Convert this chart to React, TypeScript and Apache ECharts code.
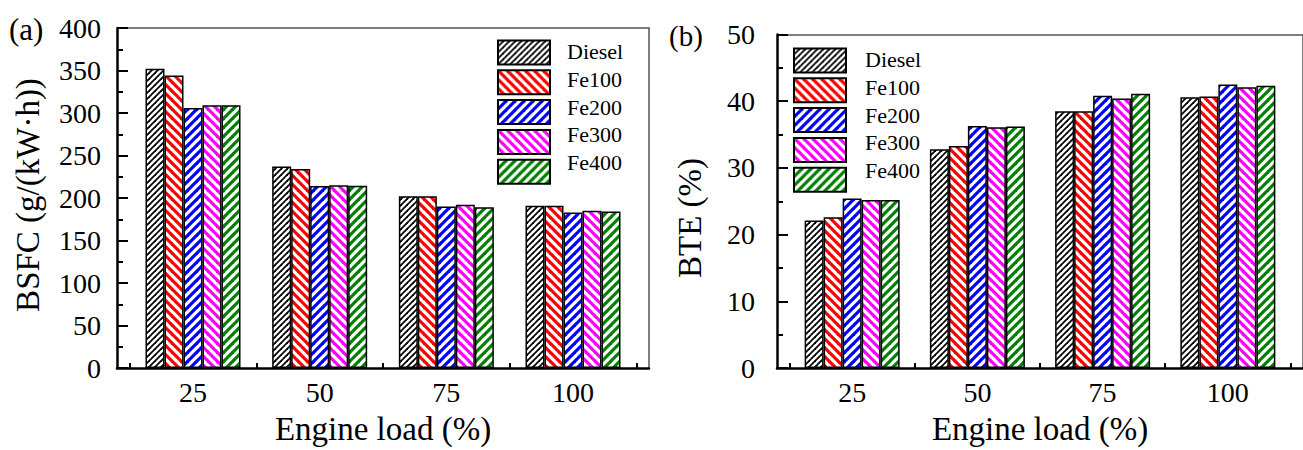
import React, { useEffect, useRef } from 'react';
import * as echarts from 'echarts';

const seriesNames = ['Diesel', 'Fe100', 'Fe200', 'Fe300', 'Fe400'];
const engineLoads = [25, 50, 75, 100];
const xTickValues = [25, 50, 75, 100];
const xMinorTickValues = [12.5, 37.5, 62.5, 87.5, 112.5];

const bsfcDiesel = [352, 237, 202, 191];
const bsfcFe100 = [344, 234, 202, 191];
const bsfcFe200 = [306, 214, 190, 183];
const bsfcFe300 = [309, 215, 192, 185];
const bsfcFe400 = [309, 214.5, 189, 184];

const bteDiesel = [22.1, 32.8, 38.5, 40.6];
const bteFe100 = [22.6, 33.3, 38.5, 40.7];
const bteFe200 = [25.4, 36.3, 40.8, 42.5];
const bteFe300 = [25.2, 36.1, 40.4, 42.1];
const bteFe400 = [25.2, 36.2, 41.1, 42.3];

const FONT = 'Liberation Serif';

function makeHatch(color: string, dir: 1 | -1, s: number, lw: number) {
  const c = document.createElement('canvas');
  c.width = s;
  c.height = s;
  const g = c.getContext('2d')!;
  g.fillStyle = '#ffffff';
  g.fillRect(0, 0, s, s);
  g.strokeStyle = color;
  g.lineWidth = lw;
  const segs: number[][] =
    dir === 1
      ? [
          [-2, s + 2, s + 2, -2],
          [-2, 2, 2, -2],
          [s - 2, s + 2, s + 2, s - 2],
        ]
      : [
          [-2, -2, s + 2, s + 2],
          [s - 2, -2, s + 2, 2],
          [-2, s - 2, 2, s + 2],
        ];
  segs.forEach(([a, b, cc, d]) => {
    g.beginPath();
    g.moveTo(a, b);
    g.lineTo(cc, d);
    g.stroke();
  });
  return { image: c, repeat: 'repeat', imageWidth: s, imageHeight: s } as any;
}

export default function App() {
  const ref = useRef<HTMLDivElement>(null);
  useEffect(() => {
    if (!ref.current) return;
    const chart = echarts.init(ref.current, undefined, { renderer: 'svg' });

    const patterns = [
      makeHatch('#000000', 1, 6, 1.8),
      makeHatch('#ff0000', -1, 9, 3.2),
      makeHatch('#0000ff', 1, 9, 3.2),
      makeHatch('#ff00ff', -1, 9, 3.2),
      makeHatch('#008000', 1, 9, 3.2),
    ];

    const bsfc = [bsfcDiesel, bsfcFe100, bsfcFe200, bsfcFe300, bsfcFe400];
    const bte = [bteDiesel, bteFe100, bteFe200, bteFe300, bteFe400];

    const grids = [
      { left: 117, top: 28, width: 532, height: 341 },
      { left: 777, top: 34.5, width: 536, height: 341 },
    ];

    const xAxes: any[] = [];
    const yAxes: any[] = [];
    const labelStyle = { fontFamily: FONT, fontSize: 28, color: '#000' };

    [0, 1].forEach((gi) => {
      xAxes.push({
        gridIndex: gi,
        type: 'value',
        position: 'bottom',
        min: 10,
        max: 115,
        name: 'Engine load (%)',
        nameLocation: 'middle',
        nameGap: 44,
        nameTextStyle: { fontFamily: FONT, fontSize: 33, color: '#000' },
        axisLine: { show: true, onZero: false, lineStyle: { color: '#000', width: 2.5 } },
        axisTick: { show: true, inside: true, length: 10, customValues: xTickValues, lineStyle: { color: '#000', width: 2 } },
        axisLabel: { show: true, customValues: xTickValues, margin: 10, ...labelStyle },
        splitLine: { show: false },
      });
      xAxes.push({
        gridIndex: gi,
        type: 'value',
        position: 'bottom',
        min: 10,
        max: 115,
        axisLine: { show: false },
        axisTick: { show: true, inside: true, length: 5, customValues: xMinorTickValues, lineStyle: { color: '#000', width: 2 } },
        axisLabel: { show: false, customValues: xMinorTickValues },
        splitLine: { show: false },
      });
      xAxes.push({
        gridIndex: gi,
        type: 'value',
        position: 'top',
        min: 10,
        max: 115,
        axisLine: { show: true, onZero: false, lineStyle: { color: '#555', width: 1.5 } },
        axisTick: { show: false },
        axisLabel: { show: false },
        splitLine: { show: false },
      });
      yAxes.push({
        gridIndex: gi,
        type: 'value',
        position: 'left',
        min: 0,
        max: gi === 0 ? 400 : 50,
        interval: gi === 0 ? 50 : 10,
        axisLine: { show: true, onZero: false, lineStyle: { color: '#000', width: 2.5 } },
        axisTick: { show: true, inside: true, length: 11, lineStyle: { color: '#000', width: 2 } },
        minorTick: { show: true, splitNumber: 2, length: 6, lineStyle: { color: '#000', width: 2 } },
        axisLabel: { show: true, margin: gi === 0 ? 16 : 22, ...labelStyle },
        splitLine: { show: false },
        minorSplitLine: { show: false },
      });
      yAxes.push({
        gridIndex: gi,
        type: 'value',
        position: 'right',
        min: 0,
        max: gi === 0 ? 400 : 50,
        axisLine: { show: true, onZero: false, lineStyle: { color: '#555', width: 1.5 } },
        axisTick: { show: false },
        axisLabel: { show: false },
        splitLine: { show: false },
      });
    });

    const series: any[] = [];
    [bsfc, bte].forEach((set, gi) => {
      set.forEach((vals, si) => {
        series.push({
          type: 'bar',
          name: seriesNames[si],
          xAxisIndex: gi * 3,
          yAxisIndex: gi * 2,
          barWidth: 19,
          barGap: '0%',
          itemStyle: { color: patterns[si], borderColor: '#000', borderWidth: 1.5 },
          data: engineLoads.map((x, i) => [x, vals[i]]),
        });
      });
    });

    const legendPos = [
      { left: 497, top: 39.5, textX: 567 },
      { left: 793, top: 47.5, textX: 865 },
    ];
    const itemH = 24;
    const itemGap = 3.8;

    const legendCommon = {
      orient: 'vertical',
      padding: 0,
      itemWidth: 52,
      itemHeight: itemH,
      itemGap,
      icon: 'rect',
      selectedMode: false,
      data: seriesNames,
      formatter: () => '',
      textStyle: { fontSize: 1 },
    };

    const titleStyle = { fontFamily: FONT, fontSize: 33, fill: '#000' };

    const legendTexts: any[] = [];
    legendPos.forEach((p) => {
      seriesNames.forEach((n, i) => {
        legendTexts.push({
          type: 'text',
          x: p.textX,
          y: p.top + itemH / 2 + i * (itemH + itemGap),
          style: { text: n, fontFamily: FONT, fontSize: 22, fill: '#000', align: 'left', verticalAlign: 'middle' },
        });
      });
    });

    chart.setOption({
      animation: false,
      backgroundColor: '#fff',
      textStyle: { fontFamily: FONT },
      grid: grids,
      xAxis: xAxes,
      yAxis: yAxes,
      series,
      legend: legendPos.map((p) => ({ ...legendCommon, left: p.left, top: p.top })),
      graphic: [
        {
          type: 'text',
          x: 9,
          y: 29,
          style: { text: '(a)', fontFamily: FONT, fontSize: 31, fill: '#000', align: 'left', verticalAlign: 'middle' },
        },
        {
          type: 'text',
          x: 669,
          y: 36,
          style: { text: '(b)', fontFamily: FONT, fontSize: 29, fill: '#000', align: 'left', verticalAlign: 'middle' },
        },
        {
          type: 'text',
          x: 28,
          y: 195,
          rotation: Math.PI / 2,
          style: { text: 'BSFC (g/(kW·h))', ...titleStyle, align: 'center', verticalAlign: 'middle' },
        },
        {
          type: 'text',
          x: 690,
          y: 218,
          rotation: Math.PI / 2,
          style: { text: 'BTE (%)', ...titleStyle, align: 'center', verticalAlign: 'middle' },
        },
        ...legendTexts,
      ],
    });

    return () => chart.dispose();
  }, []);

  return (
    <div
      ref={ref}
      style={{ position: 'absolute', left: 0, top: 0, width: 1303, height: 450 }}
    />
  );
}
